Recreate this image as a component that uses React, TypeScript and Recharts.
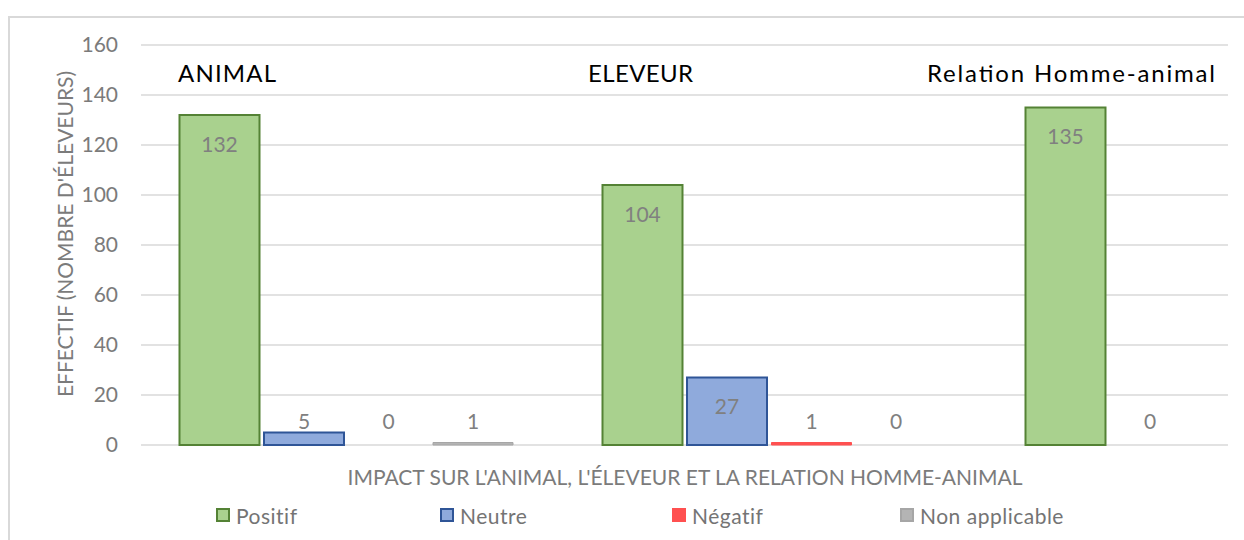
import React from 'react';
import { BarChart, Bar, XAxis, YAxis, CartesianGrid, LabelList, Legend, Cell } from 'recharts';

const categories = ['ANIMAL', 'ELEVEUR', 'Relation Homme-animal'];
const positif = [132, 104, 135];
const neutre = [5, 27, 0];
// last group's Négatif / Non applicable bars lie outside the visible frame
const negatif = [0, 1, null];
const nonApplicable = [1, 0, null];
const yTicks = [0, 20, 40, 60, 80, 100, 120, 140, 160];
const seriesNames = ['Positif', 'Neutre', 'Négatif', 'Non applicable'];
const xTitle = "IMPACT SUR L'ANIMAL, L'ÉLEVEUR ET LA RELATION HOMME-ANIMAL";
const yTitle = "EFFECTIF (NOMBRE D'ÉLEVEURS)";

const data = categories.map((c, i) => ({
  name: c,
  positif: positif[i],
  neutre: neutre[i],
  negatif: negatif[i],
  na: nonApplicable[i],
}));

const FONT = 'Lato, "Open Sans", sans-serif';
const GRAY_TEXT = '#7b7b7b';

const seriesStyle: Record<string, { fill: string; stroke: string }> = {
  positif: { fill: '#a9d18e', stroke: '#548235' },
  neutre: { fill: '#8faadc', stroke: '#2f5597' },
  negatif: { fill: '#ff5050', stroke: '#ff5050' },
  na: { fill: '#b4b4b4', stroke: '#a6a6a6' },
};
const seriesKeys = ['positif', 'neutre', 'negatif', 'na'];

// layout of the text boxes (style only)
const catLabelX = [178, 588, 927];
const catLabelLen = [98, 105, 288];
const legendSlots = [224, 232, 228, 200];

const renderLabel = (props: any) => {
  const { x, y, width, height, value } = props;
  if (value == null || value === '') return null;
  const base = Number(y) + Number(height);
  const cy = Math.min(Number(y) + 28, base - 25);
  return (
    <text
      x={Number(x) + Number(width) / 2}
      y={cy}
      textAnchor="middle"
      dominantBaseline="central"
      fill="#808080"
      fontSize={21}
      fontFamily={FONT}
    >
      {value}
    </text>
  );
};

const LegendContent = () => (
  <div style={{ display: 'flex', alignItems: 'center', height: 24, fontFamily: FONT, fontSize: 21, color: '#747474' }}>
    {seriesKeys.map((k, i) => {
      const st = seriesStyle[k];
      return (
        <div key={k} style={{ display: 'flex', alignItems: 'center', width: legendSlots[i], flex: 'none', whiteSpace: 'nowrap' }}>
          <span
            style={{
              display: 'inline-block',
              width: 14,
              height: 14,
              boxSizing: 'border-box',
              background: st.fill,
              border: `2px solid ${st.stroke}`,
              marginRight: 6,
            }}
          />
          <span style={{ letterSpacing: 0.5 }}>{seriesNames[i]}</span>
        </div>
      );
    })}
  </div>
);

export default function App() {
  return (
    <div style={{ position: 'absolute', left: 0, top: 0, width: 1244, height: 540, overflow: 'hidden', background: '#fff' }}>
      <div
        style={{
          position: 'absolute',
          left: 8,
          top: 16,
          width: 1400,
          height: 700,
          border: '2px solid #d9d9d9',
          boxSizing: 'border-box',
        }}
      />
      <div style={{ position: 'absolute', left: 0, top: 0, width: 1228, height: 540, overflow: 'hidden' }}>
        <BarChart
          width={1420}
          height={540}
          data={data}
          margin={{ top: 45, right: 16.5, bottom: 95, left: 81 }}
          barGap={4.5}
          barSize={80}
        >
          <CartesianGrid vertical={false} stroke="#d9d9d9" strokeWidth={1.5} />
          <XAxis dataKey="name" hide padding={{ left: -6.5, right: 0 }} />
          <YAxis
            width={60}
            domain={[0, 160]}
            ticks={yTicks}
            interval={0}
            tickLine={false}
            axisLine={false}
            tickSize={0}
            tickMargin={23}
            tick={{ fill: GRAY_TEXT, fontSize: 21, fontFamily: FONT }}
          />
          <Legend
            layout="horizontal"
            verticalAlign="middle"
            align="center"
            wrapperStyle={{ left: 216, top: 503, width: 1000 }}
            content={LegendContent}
          />
          {seriesKeys.map((k, i) => (
            <Bar
              key={k}
              dataKey={k}
              name={seriesNames[i]}
              fill={seriesStyle[k].fill}
              stroke={seriesStyle[k].stroke}
              strokeWidth={k === 'positif' || k === 'neutre' ? 2 : 1}
              minPointSize={(v: any) => (v === 0 ? 0.01 : 0)}
              isAnimationActive={false}
            >
              {data.map((d: any, j: number) => (
                <Cell
                  key={j}
                  fill={d[k] === 0 ? 'none' : seriesStyle[k].fill}
                  stroke={d[k] === 0 ? 'none' : seriesStyle[k].stroke}
                />
              ))}
              <LabelList dataKey={k} content={renderLabel} />
            </Bar>
          ))}
        </BarChart>
      </div>
      <svg
        width={1244}
        height={540}
        style={{ position: 'absolute', left: 0, top: 0, pointerEvents: 'none' }}
      >
        {categories.map((c, i) => (
          <text
            key={c}
            x={catLabelX[i]}
            y={82}
            fontSize={24}
            fontFamily={FONT}
            fill="#000"
            textLength={catLabelLen[i]}
            lengthAdjust="spacing"
          >
            {c}
          </text>
        ))}
        <text x={685} y={484.5} textAnchor="middle" fontSize={21} fontFamily={FONT} fill={GRAY_TEXT}>
          {xTitle}
        </text>
        <text
          x={73}
          y={234}
          textAnchor="middle"
          transform="rotate(-90 73 234)"
          fontSize={21}
          fontFamily={FONT}
          fill={GRAY_TEXT}
        >
          {yTitle}
        </text>
      </svg>
    </div>
  );
}
